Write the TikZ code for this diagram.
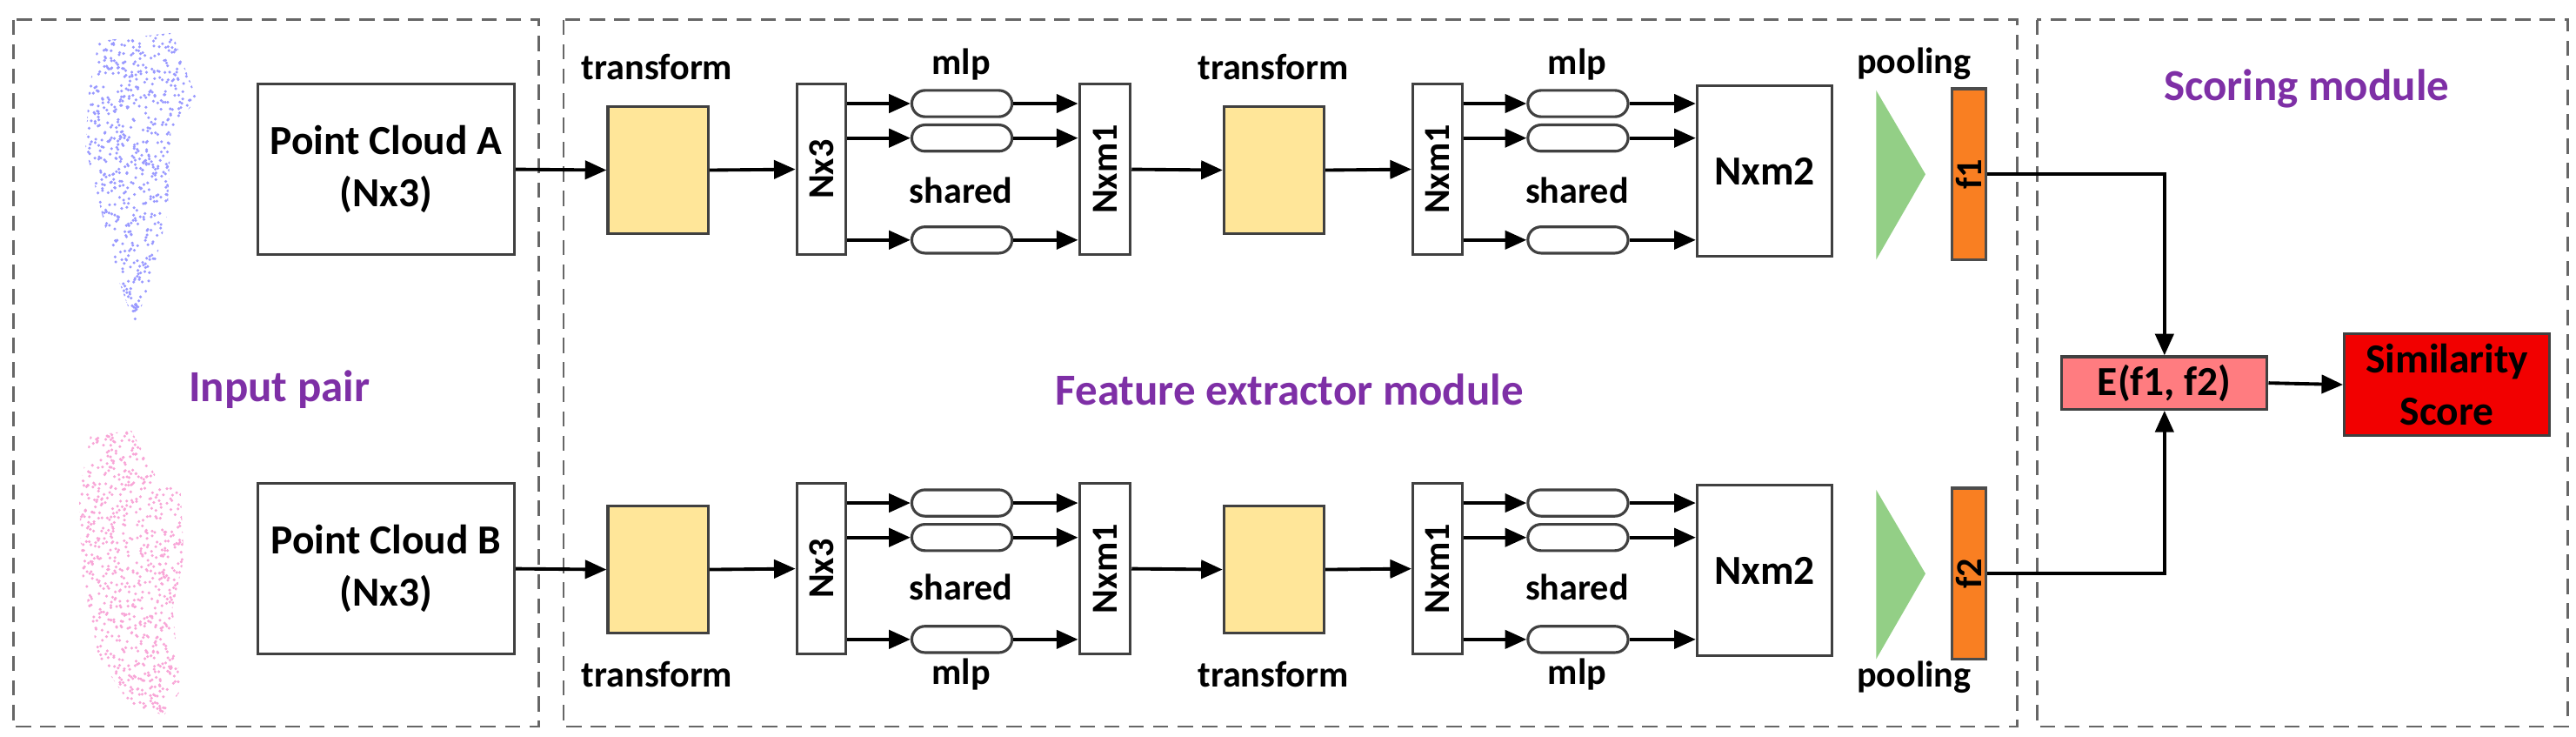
\documentclass[tikz,border=0pt]{standalone}
\usepackage{fontspec}
\setmainfont{Carlito}
\usetikzlibrary{shapes.misc,arrows.meta}
\newlength\uu \setlength\uu{0.01889cm}
\definecolor{modpurple}{HTML}{7E2FA6}
\definecolor{trfill}{HTML}{FFE699}
\definecolor{grn}{HTML}{93CF86}
\definecolor{org}{HTML}{F97F22}
\definecolor{efill}{HTML}{FF7C80}
\definecolor{sred}{HTML}{F20000}
\begin{document}
\begin{tikzpicture}[x=0.01889cm,y=-0.01889cm,
  txt/.style={font=\bfseries\fontsize{12}{14}\selectfont},
  big/.style={font=\bfseries\fontsize{13.5}{17}\selectfont},
  box/.style={draw=black!75,line width=0.9pt,fill=white,inner sep=0pt,txt},
  capsule/.style={draw=black!75,line width=0.9pt,fill=white,rounded rectangle,minimum width=61\uu,minimum height=16\uu,inner sep=0pt},
  arr/.style={line width=1.1pt,-{Triangle[length=7pt,width=6pt]}},
  panel/.style={draw=black!60,dashed,line width=0.8pt,dash pattern=on 5pt off 3pt},
  mod/.style={font=\bfseries\fontsize{14.5}{16}\selectfont,text=modpurple}]
\useasboundingbox (0,0) rectangle (1568,448);
\draw[panel] (8,12) rectangle (328,442);
\draw[panel] (343,12) rectangle (1228,442);
\draw[panel] (1240,12) rectangle (1563,442);
% point clouds
\pgfmathsetseed{7}
\begin{scope}
\clip (60,25)--(105,20)--(112,40)--(120,60)--(104,80)--(102,130)--(92,170)--(82,198)--(72,170)--(62,130)--(52,90)--(54,55)--cycle;
\foreach \i in {1,...,1100}{\fill[blue!40] ({50+72*rnd},{18+182*rnd}) circle[radius=0.5pt];}
\end{scope}
\begin{scope}
\clip (55,265)--(80,262)--(95,290)--(110,300)--(112,340)--(105,370)--(110,420)--(100,435)--(80,430)--(60,400)--(50,350)--(48,300)--cycle;
\foreach \i in {1,...,1100}{\fill[magenta!35] ({45+70*rnd},{258+180*rnd}) circle[radius=0.5pt];}
\end{scope}
\foreach \r/\dy/\f in {A/0/f1,B/243/f2}{
  \node[box,big,minimum width=156\uu,minimum height=104\uu,align=center] (pc\r) at (235,103+\dy) {Point Cloud \r\\(Nx3)};
  \node[box,fill=trfill,minimum width=61\uu,minimum height=77\uu] (tr\r) at (400.5,103.5+\dy) {};
  \node[box,minimum width=30\uu,minimum height=104\uu] (nx\r) at (500,103+\dy) {};
  \node[txt,rotate=90] (nxt\r) at (nx\r) {Nx3};
  \node[capsule] (ca\r1) at (585.5,63+\dy) {};
  \node[capsule] (ca\r2) at (585.5,84+\dy) {};
  \node[capsule] (ca\r3) at (585.5,146+\dy) {};
  \node[box,minimum width=31\uu,minimum height=104\uu] (m\r) at (672.5,103+\dy) {};
  \node[txt,rotate=90] (mt\r) at (m\r) {Nxm1};
  \node[box,fill=trfill,minimum width=61\uu,minimum height=77\uu] (tt\r) at (775.5,103.5+\dy) {};
  \node[box,minimum width=30\uu,minimum height=104\uu] (n\r) at (875,103+\dy) {};
  \node[txt,rotate=90] (nt\r) at (n\r) {Nxm1};
  \node[capsule] (cb\r1) at (960.5,63+\dy) {};
  \node[capsule] (cb\r2) at (960.5,84+\dy) {};
  \node[capsule] (cb\r3) at (960.5,146+\dy) {};
  \node[box,big,minimum width=82\uu,minimum height=104\uu] (q\r) at (1074,104+\dy) {Nxm2};
  \fill[grn] (1142,55+\dy) -- (1172,106+\dy) -- (1142,158+\dy) -- cycle;
  \node[box,draw=black!70,fill=org,minimum width=21\uu,minimum height=104\uu] (f\r) at (1198.5,106+\dy) {};
  \node[txt,rotate=90] (ft\r) at (f\r) {\f};
  \draw[arr] (pc\r.east) -- (tr\r.west);
  \draw[arr] (tr\r.east) -- (nx\r.west);
  \draw[arr] (m\r.east) -- (tt\r.west);
  \draw[arr] (tt\r.east) -- (n\r.west);
  \foreach \k in {1,2,3}{
    \draw[arr] (nx\r.east |- ca\r\k.west) -- (ca\r\k.west);
    \draw[arr] (ca\r\k.east) -- (m\r.west |- ca\r\k.east);
    \draw[arr] (n\r.east |- cb\r\k.west) -- (cb\r\k.west);
    \draw[arr] (cb\r\k.east) -- (q\r.west |- cb\r\k.east);
  }
}
\node[box,big,fill=efill,minimum width=125\uu,minimum height=32\uu] (E) at (1317.5,233) {E(f1, f2)};
\node[box,big,fill=sred,minimum width=125\uu,minimum height=62\uu,align=center] (S) at (1489.5,234) {Similarity\\Score};
\draw[line width=1.1pt,-{Triangle[length=7pt,width=6pt]}] (fA.east) -| (E.north);
\draw[line width=1.1pt,-{Triangle[length=7pt,width=6pt]}] (fB.east) -| (E.south);
\draw[arr] (E.east) -- (S.west);
% labels
\node[txt] (l1) at (400,41) {transform};
\node[txt] (l2) at (585,39) {mlp};
\node[txt] (l3) at (585,116) {shared};
\node[txt] (l4) at (775,41) {transform};
\node[txt] (l5) at (960,39) {mlp};
\node[txt] (l6) at (960,116) {shared};
\node[txt] (l7) at (1165,39) {pooling};
\node[txt] (l8) at (400,410) {transform};
\node[txt] (l9) at (585,357) {shared};
\node[txt] (l10) at (585,410) {mlp};
\node[txt] (l11) at (775,410) {transform};
\node[txt] (l12) at (960,357) {shared};
\node[txt] (l13) at (960,410) {mlp};
\node[txt] (l14) at (1165,412) {pooling};
\node[mod] (g1) at (170,237) {Input pair};
\node[mod] (g2) at (785,237) {Feature extractor module};
\node[mod] (g3) at (1404,54) {Scoring module};
\end{tikzpicture}
\end{document}
